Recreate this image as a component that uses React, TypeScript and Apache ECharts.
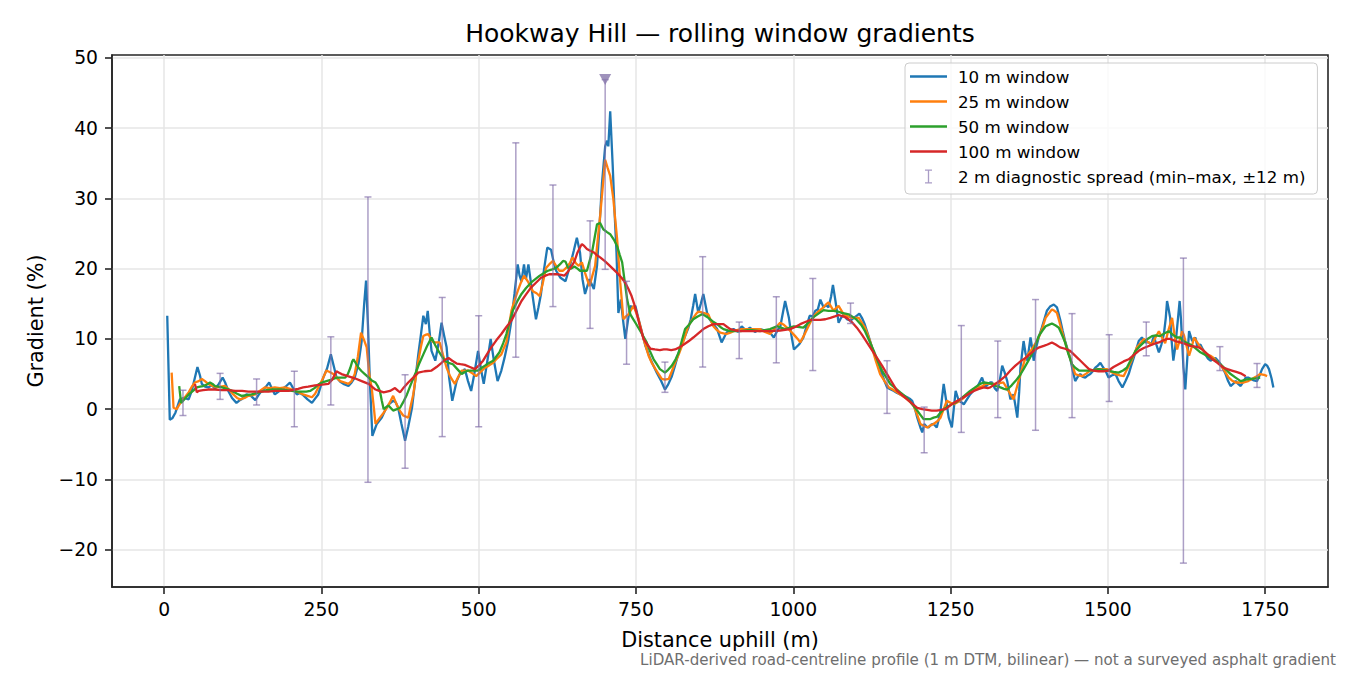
import React, { useEffect, useRef } from 'react';
import * as echarts from 'echarts';

// Rolling-window gradient profiles, [distance uphill (m), gradient (%)]
const window10: number[][] = [
  [5,13.3],[9,-1.5],[13,-1.3],[18,-0.5],[25,1.4],[32,1.6],[39,1.4],[44,2.6],[49,4.5],[53,6.0],[57,4.8],[60,3.6],[65,3.2],[70,3.1],[76,3.4],[81,2.9],[87,3.6],[93,4.5],[97,3.8],[102,2.6],[108,1.6],[115,0.9],[119,1.2],[123,1.4],[131,2.1],[138,1.9],[145,1.3],[150,2.0],[155,2.6],[161,3.1],[167,3.8],[171,3.0],[176,2.1],[182,2.5],[187,2.8],[193,3.2],[200,3.8],[205,3.0],[211,2.1],[216,2.3],[221,2.0],[228,1.4],[235,0.9],[240,1.5],[245,2.1],[253,4.5],[259,5.8],[265,7.8],[270,6.0],[274,4.5],[280,3.9],[285,3.6],[293,3.3],[298,3.8],[303,4.5],[309,6.5],[314,9.7],[318,15.0],[321,18.3],[324,12.0],[327,4.0],[331,-3.8],[338,-2.1],[346,-1.2],[352,0.0],[357,0.7],[364,1.2],[368,1.0],[372,0.2],[377,-2.0],[383,-4.5],[388,-2.5],[394,0.2],[399,4.0],[404,7.8],[408,10.5],[412,13.3],[416,12.1],[419,14.0],[422,11.0],[425,8.3],[431,6.9],[436,9.2],[441,12.3],[445,10.5],[449,8.8],[453,4.5],[458,1.2],[462,2.8],[465,4.0],[470,5.0],[478,5.7],[483,4.0],[488,2.6],[493,5.0],[499,8.3],[504,5.5],[508,3.6],[514,7.0],[519,10.0],[524,7.0],[530,4.0],[536,5.5],[541,7.3],[547,9.8],[552,12.6],[557,16.5],[562,20.6],[565,19.0],[568,18.2],[572,20.6],[575,18.5],[579,20.6],[583,18.0],[586,15.9],[591,12.8],[595,14.5],[599,16.4],[604,20.0],[609,23.0],[615,22.7],[619,21.0],[623,19.7],[630,18.7],[638,18.2],[645,20.4],[651,22.5],[656,24.4],[661,22.3],[665,18.5],[669,16.4],[676,18.5],[683,17.1],[688,20.4],[692,26.0],[696,32.2],[701,37.4],[704,38.2],[706,37.4],[709,42.4],[713,34.6],[716,28.0],[719,22.3],[722,13.7],[726,15.6],[729,13.0],[733,10.0],[737,12.5],[741,14.7],[745,14.5],[749,14.7],[753,13.2],[757,11.8],[765,9.0],[773,7.1],[783,5.2],[790,4.0],[796,2.8],[801,3.5],[807,4.7],[812,6.2],[818,8.1],[823,9.3],[828,10.4],[833,11.5],[837,12.8],[841,14.8],[844,16.4],[849,13.7],[853,15.0],[857,16.4],[863,13.7],[867,12.8],[871,12.3],[879,11.4],[886,9.5],[894,10.9],[900,11.2],[905,11.4],[912,11.0],[918,11.8],[925,11.2],[931,11.6],[939,11.0],[947,11.4],[955,11.2],[963,10.9],[969,10.2],[976,11.4],[979,11.6],[983,13.5],[987,15.4],[993,13.0],[997,10.5],[1001,8.5],[1009,9.2],[1016,10.2],[1021,11.8],[1026,13.3],[1031,13.2],[1035,14.0],[1039,14.2],[1043,15.6],[1048,14.5],[1052,14.8],[1056,14.5],[1060,16.0],[1063,17.7],[1067,15.4],[1072,12.3],[1076,13.0],[1080,13.5],[1085,12.8],[1091,12.6],[1096,13.0],[1101,13.3],[1105,13.6],[1109,13.0],[1113,12.2],[1117,11.1],[1121,10.0],[1125,8.8],[1129,7.8],[1133,6.9],[1137,6.0],[1141,5.0],[1145,4.0],[1149,3.1],[1155,2.8],[1160,2.6],[1165,2.3],[1170,2.1],[1176,1.9],[1181,1.7],[1185,1.5],[1189,1.2],[1193,0.2],[1197,-1.2],[1202,-2.6],[1205,-3.3],[1208,-2.1],[1212,-2.5],[1215,-2.6],[1219,-2.2],[1223,-2.1],[1228,-2.6],[1231,-1.5],[1234,-0.2],[1239,3.6],[1243,1.2],[1247,-1.2],[1252,-2.6],[1255,0.0],[1258,2.6],[1263,1.2],[1267,1.0],[1271,0.7],[1276,1.4],[1281,2.1],[1286,2.6],[1292,3.1],[1296,3.8],[1300,4.5],[1305,3.1],[1309,3.5],[1313,3.8],[1316,3.8],[1320,3.0],[1324,2.6],[1328,4.0],[1332,6.2],[1336,5.2],[1340,4.0],[1345,1.4],[1350,2.1],[1353,0.5],[1356,-1.2],[1359,2.5],[1361,5.9],[1366,9.7],[1369,8.0],[1372,6.9],[1377,10.2],[1380,8.5],[1382,6.9],[1386,8.8],[1390,10.2],[1395,11.6],[1399,12.8],[1403,14.0],[1408,14.6],[1414,14.9],[1419,14.5],[1424,12.8],[1428,11.2],[1432,9.7],[1436,8.5],[1440,7.3],[1444,5.5],[1448,4.0],[1452,4.6],[1456,5.0],[1460,4.6],[1464,4.5],[1468,4.8],[1472,5.0],[1476,5.4],[1480,5.9],[1484,6.2],[1488,6.6],[1492,6.0],[1496,5.5],[1501,4.5],[1506,4.8],[1512,5.0],[1517,4.0],[1523,3.1],[1528,4.0],[1533,5.0],[1537,6.2],[1541,7.3],[1545,8.5],[1549,9.7],[1554,10.2],[1560,9.5],[1565,9.5],[1569,9.2],[1573,10.4],[1577,9.2],[1581,8.1],[1585,9.2],[1589,10.7],[1592,13.0],[1594,15.4],[1596,14.5],[1599,13.0],[1601,10.0],[1604,6.9],[1607,8.8],[1609,10.7],[1612,13.5],[1614,15.4],[1616,13.0],[1618,9.7],[1620,6.0],[1623,2.8],[1626,7.0],[1629,11.1],[1634,9.7],[1639,10.2],[1642,9.0],[1647,9.2],[1651,8.5],[1655,7.8],[1659,7.2],[1663,6.9],[1667,7.1],[1671,7.3],[1675,6.9],[1679,6.4],[1683,5.8],[1687,5.0],[1691,4.0],[1695,3.3],[1699,3.6],[1703,4.0],[1707,3.6],[1711,3.3],[1715,3.9],[1719,4.5],[1723,4.5],[1727,4.3],[1732,4.1],[1737,4.0],[1741,4.8],[1745,5.7],[1750,6.4],[1753,6.2],[1756,5.7],[1760,4.4],[1763,3.1],
];

const window25: number[][] = [
  [12,5.2],[15,0.2],[20,0.0],[28,1.2],[34,1.8],[39,2.4],[44,3.2],[49,3.8],[55,4.0],[60,4.3],[65,4.0],[70,3.6],[77,3.3],[84,3.1],[90,3.2],[97,3.3],[103,2.8],[110,2.1],[116,1.6],[121,1.4],[128,1.6],[134,1.9],[140,2.0],[145,2.1],[152,2.6],[160,3.1],[168,3.0],[176,3.1],[184,3.0],[192,3.1],[200,2.9],[208,2.6],[214,2.4],[221,2.1],[228,1.9],[235,1.7],[240,2.2],[245,3.1],[252,4.3],[258,5.5],[263,5.3],[269,5.0],[275,4.4],[280,4.0],[287,3.8],[293,3.6],[298,4.0],[303,5.0],[308,7.5],[313,10.9],[318,9.8],[322,8.8],[326,5.0],[330,3.0],[333,0.5],[336,-2.1],[343,-1.2],[349,-0.5],[354,0.2],[359,1.0],[364,1.9],[368,1.0],[372,0.2],[376,-0.4],[380,-0.9],[388,-1.2],[392,0.5],[396,2.1],[400,4.5],[404,6.9],[408,8.8],[412,10.4],[416,10.6],[420,10.7],[424,10.0],[428,9.5],[433,9.5],[438,9.5],[443,7.8],[449,5.9],[455,4.6],[462,3.6],[467,4.5],[473,5.5],[478,5.5],[483,5.5],[490,5.1],[496,4.7],[503,5.3],[510,5.9],[516,6.2],[523,6.6],[529,7.2],[536,7.8],[540,8.7],[544,9.5],[548,11.8],[552,14.0],[557,15.5],[562,16.8],[567,18.0],[572,19.0],[578,18.2],[582,17.5],[586,16.8],[592,16.5],[597,16.1],[602,18.0],[607,20.1],[612,20.6],[618,21.1],[623,20.4],[628,19.7],[634,19.7],[639,20.1],[645,20.8],[649,21.6],[655,20.7],[659,20.4],[664,20.9],[669,19.4],[676,17.5],[680,18.8],[685,20.4],[689,24.0],[693,27.5],[697,31.5],[701,35.5],[705,34.3],[709,33.2],[714,29.9],[717,27.0],[720,24.2],[725,18.0],[730,12.8],[734,13.2],[738,13.5],[742,14.1],[746,14.7],[750,13.8],[754,12.8],[758,11.4],[762,10.0],[766,8.8],[770,7.6],[775,6.6],[781,5.7],[786,5.0],[791,4.3],[796,4.2],[802,4.3],[807,5.4],[812,6.6],[818,7.8],[823,9.0],[828,10.4],[833,11.8],[837,12.4],[841,13.0],[845,13.5],[849,13.9],[853,13.8],[857,13.7],[861,13.6],[865,13.5],[869,12.6],[873,11.8],[878,11.3],[884,10.9],[889,10.8],[894,10.7],[900,10.9],[905,11.1],[912,11.3],[918,11.4],[925,11.4],[931,11.4],[939,11.4],[947,11.4],[955,11.0],[963,10.7],[971,11.5],[979,12.3],[985,12.0],[990,11.6],[997,11.0],[1003,10.4],[1007,10.0],[1011,9.5],[1017,10.5],[1022,11.4],[1028,12.5],[1035,13.5],[1041,14.0],[1048,14.5],[1052,14.9],[1056,15.2],[1060,14.6],[1064,14.0],[1068,14.4],[1072,14.7],[1076,14.1],[1080,13.5],[1087,13.2],[1093,13.0],[1099,13.0],[1104,13.0],[1109,12.3],[1114,11.6],[1120,10.2],[1125,8.8],[1131,6.9],[1138,5.0],[1145,4.0],[1152,3.1],[1158,2.8],[1165,2.4],[1173,1.9],[1181,1.4],[1186,1.0],[1191,0.5],[1197,-0.8],[1202,-2.1],[1208,-2.4],[1213,-2.6],[1218,-2.3],[1223,-2.1],[1229,-1.7],[1234,-1.2],[1239,0.0],[1244,1.2],[1250,0.9],[1255,0.7],[1261,1.0],[1268,1.4],[1274,1.9],[1281,2.4],[1288,2.8],[1295,3.1],[1301,3.3],[1305,3.6],[1313,3.6],[1321,3.6],[1328,3.7],[1334,3.8],[1338,3.2],[1342,2.6],[1346,2.0],[1350,1.4],[1354,2.7],[1358,4.0],[1363,5.6],[1369,7.3],[1374,7.9],[1379,8.5],[1385,9.4],[1390,10.2],[1396,11.6],[1401,13.0],[1406,13.6],[1411,14.2],[1415,14.0],[1419,13.7],[1423,12.4],[1427,11.1],[1432,9.5],[1438,7.8],[1443,6.4],[1448,5.0],[1454,4.8],[1459,4.7],[1466,5.1],[1472,5.5],[1479,5.6],[1485,5.7],[1492,5.7],[1499,5.7],[1505,5.3],[1512,5.0],[1519,4.8],[1525,4.7],[1530,5.6],[1536,6.6],[1541,7.7],[1546,8.8],[1552,9.4],[1557,10.0],[1563,9.6],[1570,9.2],[1575,10.1],[1581,11.1],[1586,10.2],[1591,9.4],[1596,11.2],[1602,13.0],[1606,10.5],[1610,8.5],[1614,9.8],[1618,11.1],[1621,10.5],[1625,9.0],[1629,7.6],[1633,8.8],[1637,10.2],[1642,9.5],[1647,8.8],[1652,8.3],[1658,7.8],[1663,7.6],[1668,7.3],[1675,6.6],[1682,5.9],[1687,5.2],[1692,4.5],[1697,4.1],[1703,3.8],[1710,3.8],[1716,3.8],[1723,4.0],[1729,4.3],[1735,4.6],[1742,5.0],[1748,4.9],[1753,4.7],
];

const window50: number[][] = [
  [24,3.3],[27,0.9],[33,1.5],[39,2.1],[46,2.6],[52,3.1],[57,3.2],[62,3.3],[68,3.5],[73,3.8],[77,3.6],[81,3.3],[86,3.2],[92,3.1],[100,2.9],[108,2.6],[116,2.2],[123,1.9],[131,2.0],[139,2.1],[147,2.3],[155,2.5],[163,2.7],[171,2.8],[179,2.8],[187,2.8],[195,2.7],[203,2.6],[211,2.5],[219,2.5],[226,2.5],[232,2.6],[239,3.0],[245,3.5],[251,3.8],[258,4.0],[266,4.2],[274,4.5],[281,4.5],[288,4.5],[292,5.0],[296,5.9],[299,6.8],[301,7.1],[305,6.5],[309,5.9],[314,5.4],[319,5.0],[324,4.6],[330,4.1],[336,3.8],[340,3.2],[343,2.6],[346,1.2],[349,0.0],[353,0.3],[357,0.5],[361,0.1],[364,-0.2],[370,0.0],[375,0.2],[380,1.0],[386,2.1],[392,3.5],[399,5.0],[405,6.4],[412,7.8],[418,9.0],[425,10.2],[431,9.1],[436,8.3],[441,7.6],[446,6.9],[452,6.6],[459,6.4],[466,5.7],[473,5.0],[478,5.3],[483,5.5],[491,5.5],[499,5.5],[505,5.9],[510,6.2],[517,6.6],[523,6.9],[528,7.5],[533,8.1],[539,9.4],[544,10.7],[549,12.4],[554,14.0],[561,15.3],[568,16.4],[575,17.2],[583,18.0],[590,18.5],[597,19.0],[604,19.4],[610,19.7],[617,19.9],[623,20.1],[629,20.6],[634,21.1],[638,21.0],[642,20.1],[647,20.0],[652,20.3],[657,20.0],[661,19.7],[667,19.7],[672,19.7],[676,21.0],[680,22.3],[684,24.3],[688,26.3],[693,26.5],[698,25.6],[704,25.2],[709,24.9],[715,24.1],[720,23.2],[724,22.0],[728,20.9],[732,18.2],[736,15.6],[741,13.5],[745,12.9],[749,12.3],[753,11.7],[757,11.1],[762,10.3],[767,9.5],[772,8.3],[778,7.1],[783,6.4],[788,5.7],[796,5.2],[801,5.6],[807,6.2],[813,7.1],[818,8.1],[823,9.8],[828,11.4],[835,12.1],[841,12.8],[848,13.2],[855,13.5],[860,13.3],[865,13.0],[872,12.5],[879,12.1],[884,11.7],[889,11.4],[900,11.1],[916,11.1],[931,11.3],[947,11.1],[963,11.4],[974,11.8],[987,11.4],[1001,11.8],[1016,11.6],[1024,12.3],[1032,13.1],[1040,13.6],[1048,14.1],[1056,14.0],[1064,14.0],[1071,13.9],[1077,13.7],[1083,13.6],[1088,13.5],[1095,13.1],[1101,12.7],[1108,12.0],[1114,11.1],[1121,9.7],[1128,8.3],[1134,6.9],[1141,5.5],[1148,4.5],[1154,3.6],[1162,3.0],[1170,2.4],[1177,1.9],[1183,1.4],[1190,0.6],[1197,-0.2],[1202,-0.8],[1207,-1.4],[1213,-1.4],[1218,-1.4],[1223,-1.2],[1228,-1.1],[1234,-0.5],[1239,0.0],[1246,0.4],[1252,0.7],[1259,1.0],[1265,1.4],[1273,2.0],[1281,2.6],[1289,3.1],[1297,3.6],[1303,3.8],[1310,3.7],[1316,3.6],[1322,3.3],[1329,3.1],[1335,2.9],[1340,2.8],[1347,3.4],[1353,4.0],[1360,4.8],[1366,5.7],[1373,6.8],[1379,7.8],[1385,9.1],[1390,10.4],[1396,11.2],[1401,11.8],[1406,12.0],[1411,12.2],[1417,11.9],[1422,11.6],[1427,10.6],[1432,9.5],[1437,7.9],[1443,6.4],[1448,5.9],[1454,5.5],[1462,5.5],[1470,5.5],[1478,5.6],[1485,5.7],[1493,5.6],[1501,5.5],[1509,5.3],[1517,5.2],[1524,5.5],[1530,5.9],[1537,7.1],[1544,8.3],[1550,8.9],[1557,9.5],[1563,10.0],[1570,10.4],[1576,10.5],[1583,10.4],[1590,10.8],[1597,11.1],[1603,10.6],[1610,10.2],[1615,10.2],[1620,9.7],[1626,9.4],[1631,9.2],[1639,8.7],[1647,8.1],[1655,7.7],[1663,7.3],[1671,6.9],[1679,6.4],[1687,5.7],[1695,5.0],[1703,4.5],[1711,4.0],[1719,4.2],[1727,4.3],[1735,4.4],[1742,4.5],
];

const window100: number[][] = [
  [49,3.6],[52,2.4],[55,2.6],[62,2.7],[70,2.8],[81,2.8],[92,2.7],[102,2.7],[113,2.6],[124,2.6],[134,2.5],[145,2.5],[155,2.5],[166,2.5],[176,2.6],[187,2.6],[198,2.6],[206,2.8],[213,2.9],[221,3.1],[229,3.2],[240,3.4],[251,3.5],[261,3.6],[267,4.2],[274,5.4],[278,5.2],[282,5.0],[292,4.7],[303,4.4],[314,4.0],[325,3.6],[336,2.8],[342,2.6],[349,2.4],[359,2.6],[367,3.0],[372,2.6],[375,2.4],[381,3.1],[388,3.8],[396,4.5],[404,5.2],[414,5.4],[425,5.5],[433,6.0],[441,6.6],[446,7.0],[452,7.3],[458,6.9],[465,6.5],[471,6.4],[478,6.3],[486,6.0],[494,5.7],[500,6.2],[507,6.9],[513,7.8],[520,8.8],[528,9.8],[536,10.7],[544,11.7],[552,12.6],[560,14.0],[568,15.4],[575,16.3],[583,17.3],[591,18.0],[599,18.7],[606,19.0],[612,19.2],[619,19.2],[626,19.2],[631,19.1],[636,19.0],[642,19.6],[648,20.4],[652,21.0],[657,22.3],[661,23.0],[664,23.5],[668,23.2],[672,22.8],[678,22.5],[683,22.3],[688,21.9],[693,21.6],[700,21.1],[706,20.6],[713,20.0],[720,19.4],[727,18.7],[733,18.0],[738,17.1],[743,16.1],[747,15.0],[751,13.7],[756,11.9],[762,10.0],[768,9.2],[773,8.6],[780,8.5],[788,8.4],[794,8.5],[799,8.5],[806,8.4],[812,8.5],[819,8.8],[826,9.2],[834,9.7],[841,10.2],[849,10.8],[857,11.4],[865,11.8],[873,12.1],[881,12.1],[889,12.1],[895,11.7],[900,11.4],[908,11.2],[916,11.1],[931,11.1],[947,11.1],[963,11.1],[979,11.2],[995,11.4],[1003,11.7],[1011,12.1],[1019,12.4],[1027,12.7],[1035,12.7],[1043,12.7],[1051,12.8],[1059,13.0],[1066,13.2],[1072,13.4],[1079,13.2],[1085,13.0],[1093,12.4],[1101,11.6],[1109,10.6],[1117,9.5],[1125,8.4],[1133,7.3],[1141,6.2],[1149,5.0],[1157,3.8],[1165,2.6],[1173,2.0],[1181,1.4],[1189,0.8],[1197,0.2],[1205,0.0],[1213,-0.1],[1220,-0.2],[1228,-0.2],[1235,-0.1],[1242,0.0],[1249,0.5],[1255,0.9],[1263,1.3],[1271,1.7],[1279,2.2],[1287,2.6],[1295,2.9],[1303,3.1],[1309,3.0],[1313,3.1],[1321,3.6],[1329,4.1],[1337,4.7],[1345,5.5],[1353,6.2],[1361,6.8],[1369,7.3],[1377,7.9],[1385,8.5],[1391,8.8],[1398,9.0],[1404,9.2],[1411,9.5],[1417,9.2],[1424,8.8],[1432,8.6],[1440,8.3],[1447,7.7],[1454,7.1],[1462,6.4],[1470,5.7],[1477,5.5],[1485,5.4],[1493,5.4],[1501,5.5],[1509,6.0],[1517,6.4],[1525,6.8],[1533,7.1],[1541,7.7],[1549,8.3],[1557,8.7],[1565,9.0],[1573,9.3],[1581,9.5],[1588,9.8],[1594,10.0],[1599,10.0],[1607,9.7],[1615,9.5],[1623,9.3],[1631,9.0],[1639,8.9],[1644,8.8],[1650,8.5],[1655,8.1],[1661,7.6],[1666,7.1],[1674,6.6],[1684,5.9],[1690,5.7],[1697,5.5],[1704,5.3],[1711,5.1],[1719,4.7],
];

// 2 m diagnostic spread, [distance, min, max]
const spreadBars: number[][] = [
  [30,-0.9,2.7],[89,1.4,5.1],[147,0.6,4.3],[207,-2.5,5.4],[265,0.6,10.3],[324,-10.4,30.2],[383,-8.4,4.9],[442,-3.9,15.9],[500,-2.5,13.3],[559,7.4,37.9],[618,14.6,31.9],[677,11.5,26.8],[701,19.9,46.9],[735,6.4,18.2],[796,2.4,6.7],[856,6.0,21.7],[914,7.2,12.4],[973,6.6,16.0],[1031,5.5,18.6],[1091,12.2,15.1],[1149,-0.6,6.9],[1208,-6.2,0.3],[1267,-3.3,11.9],[1325,-1.2,9.7],[1385,-3.0,15.6],[1443,-1.2,13.6],[1502,1.1,10.6],[1561,7.6,12.4],[1620,-21.9,21.5],[1678,5.5,8.9],[1737,3.1,6.5],
];

const peakMarker: number[][] = [[701, 46.9]];

const xTicks = [0, 250, 500, 750, 1000, 1250, 1500, 1750];
const yTicks = [-20, -10, 0, 10, 20, 30, 40, 50];

const seriesNames = ['10 m window', '25 m window', '50 m window', '100 m window'];
const spreadName = '2 m diagnostic spread (min\u2013max, \u00b112 m)';

const FONT = 'DejaVu Sans';
const INK = '#262626';
const ERR = 'rgba(128,108,168,0.65)';
const LINE_ICON = 'path://M0,0H37V2.3H0Z';
const BAR_ICON = 'path://M0,0H8V1.5H4.75V14.5H8V16H0V14.5H3.25V1.5H0Z';

export default function App() {
  const ref = useRef<HTMLDivElement>(null);

  useEffect(() => {
    if (!ref.current) return;
    const chart = echarts.init(ref.current, undefined, { renderer: 'svg' });

    const lineSeries = [window10, window25, window50, window100].map((d, i) => ({
      name: seriesNames[i],
      type: 'line',
      data: d,
      symbol: 'none',
      showSymbol: false,
      lineStyle: { width: 2.3 },
      z: 2 + i,
    }));

    chart.setOption({
      animation: false,
      backgroundColor: '#ffffff',
      color: ['#1f77b4', '#ff7f0e', '#2ca02c', '#d62728'],
      textStyle: { fontFamily: FONT },
      grid: {
        left: 112, top: 55, width: 1216, height: 532,
        show: true, borderColor: INK, borderWidth: 1.6, backgroundColor: 'transparent',
      },
      legend: {
        orient: 'vertical',
        left: 905,
        top: 63,
        padding: [5, 12, 9, 5],
        itemWidth: 37,
        itemHeight: 14,
        itemGap: 8,
        selectedMode: false,
        backgroundColor: 'rgba(255,255,255,0.8)',
        borderColor: '#cccccc',
        borderWidth: 1,
        borderRadius: 4,
        textStyle: { fontFamily: FONT, fontSize: 16.7, color: '#000', lineHeight: 17, padding: [0, 0, 0, 6] },
        data: [
          ...seriesNames.map((name) => ({ name, icon: LINE_ICON })),
          { name: spreadName, icon: BAR_ICON, itemStyle: { color: '#a99cc6' } },
        ],
      },
      xAxis: {
        type: 'value',
        min: -82.8,
        max: 1849.8,
        name: 'Distance uphill (m)',
        nameLocation: 'middle',
        nameGap: 42,
        nameTextStyle: { fontFamily: FONT, fontSize: 20.8, color: '#000' },
        axisLine: { show: true, onZero: false, lineStyle: { color: INK, width: 1.6 } },
        axisTick: { show: true, customValues: xTicks, length: 7, lineStyle: { color: INK, width: 1.6 } },
        axisLabel: {
          customValues: xTicks, fontSize: 18.75, color: '#000', margin: 13, fontFamily: FONT,
          formatter: (v: number) => String(v),
        },
        splitLine: { show: true, lineStyle: { color: '#e6e6e6', width: 1.5 } },
      },
      yAxis: {
        type: 'value',
        min: -25.3,
        max: 50.4,
        name: 'Gradient (%)',
        nameLocation: 'middle',
        nameGap: 66,
        nameTextStyle: { fontFamily: FONT, fontSize: 20.8, color: '#000' },
        axisLine: { show: true, onZero: false, lineStyle: { color: INK, width: 1.6 } },
        axisTick: { show: true, customValues: yTicks, length: 7, lineStyle: { color: INK, width: 1.6 } },
        axisLabel: {
          customValues: yTicks, fontSize: 18.75, color: '#000', margin: 14, fontFamily: FONT,
          formatter: (v: number) => String(v).replace('-', '\u2212'),
        },
        splitLine: { show: true, lineStyle: { color: '#e6e6e6', width: 1.5 } },
      },
      series: [
        ...lineSeries,
        {
          name: spreadName,
          type: 'custom',
          data: spreadBars,
          encode: { x: 0, y: [1, 2] },
          z: 8,
          itemStyle: { color: '#a99cc6' },
          renderItem: (_params: any, api: any) => {
            const x = api.value(0);
            const top = api.coord([x, api.value(2)]);
            const bot = api.coord([x, api.value(1)]);
            const cap = 3.5;
            const style = { stroke: ERR, lineWidth: 1.5, fill: 'none' };
            return {
              type: 'group',
              children: [
                { type: 'line', shape: { x1: top[0], y1: top[1], x2: bot[0], y2: bot[1] }, style },
                { type: 'line', shape: { x1: top[0] - cap, y1: top[1], x2: top[0] + cap, y2: top[1] }, style },
                { type: 'line', shape: { x1: bot[0] - cap, y1: bot[1], x2: bot[0] + cap, y2: bot[1] }, style },
              ],
            };
          },
        },
        {
          name: 'peak',
          type: 'scatter',
          data: peakMarker,
          symbol: 'triangle',
          symbolRotate: 180,
          symbolSize: [12, 11],
          itemStyle: { color: '#8777ab' },
          z: 9,
        },
      ],
      graphic: [
        {
          type: 'text',
          x: 720, y: 33,
          style: {
            text: 'Hookway Hill \u2014 rolling window gradients',
            fontFamily: FONT, fontSize: 25, fill: '#000',
            textAlign: 'center', textVerticalAlign: 'middle',
          },
        },
        {
          type: 'text',
          x: 1336, y: 660,
          style: {
            text: 'LiDAR-derived road-centreline profile (1 m DTM, bilinear) \u2014 not a surveyed asphalt gradient',
            fontFamily: FONT, fontSize: 15.1, fill: '#6e6e6e',
            textAlign: 'right', textVerticalAlign: 'middle',
          },
        },
      ],
    });

    return () => chart.dispose();
  }, []);

  return <div ref={ref} style={{ position: 'fixed', left: 0, top: 0, width: 1350, height: 675 }} />;
}
